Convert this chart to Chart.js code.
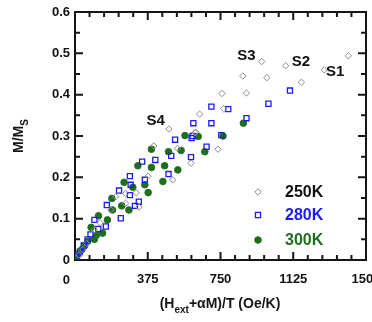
<!DOCTYPE html>
<html>
<head>
<meta charset="utf-8">
<style>
  html, body { margin: 0; padding: 0; background: #fff; overflow: hidden; }
  #wrap { width: 372px; height: 322px; }
</style>
</head>
<body>
<div id="wrap"><canvas id="myChart" width="372" height="322"></canvas></div>
<script src="https://cdn.jsdelivr.net/npm/chart.js"></script>
<script>
// 250K - gray open diamonds
const x250 = [20, 40, 60, 100, 130, 185, 210, 261, 261, 315, 329, 377, 406, 484, 504, 528, 598, 618, 623, 642, 737, 758, 766, 865, 884, 962, 989, 1086, 1167, 1285, 1409];
const y250 = [0.012, 0.025, 0.04, 0.073, 0.09, 0.121, 0.153, 0.161, 0.137, 0.163, 0.128, 0.203, 0.276, 0.317, 0.194, 0.27, 0.234, 0.308, 0.309, 0.353, 0.268, 0.403, 0.366, 0.445, 0.404, 0.48, 0.441, 0.47, 0.43, 0.46, 0.494];
// 280K - blue open squares
const x280 = [10, 25, 45, 65, 80, 100, 120, 159, 164, 227, 236, 283, 283, 287, 309, 329, 346, 360, 414, 482, 496, 516, 598, 601, 606, 610, 678, 703, 703, 754, 790, 884, 997, 1108];
const y280 = [0.008, 0.02, 0.035, 0.05, 0.062, 0.097, 0.075, 0.081, 0.133, 0.168, 0.101, 0.203, 0.157, 0.182, 0.131, 0.141, 0.238, 0.194, 0.242, 0.208, 0.252, 0.291, 0.249, 0.295, 0.3, 0.331, 0.274, 0.371, 0.331, 0.302, 0.365, 0.343, 0.378, 0.41];
// 300K - green filled dots
const x300 = [8, 20, 35, 50, 65, 83, 100, 110, 121, 142, 167, 190, 193, 241, 253, 278, 298, 324, 360, 377, 394, 394, 453, 462, 482, 530, 547, 567, 635, 669, 763, 868];
const y300 = [0.005, 0.015, 0.025, 0.035, 0.045, 0.079, 0.05, 0.06, 0.107, 0.065, 0.097, 0.149, 0.121, 0.131, 0.188, 0.121, 0.176, 0.228, 0.182, 0.163, 0.224, 0.268, 0.19, 0.228, 0.262, 0.218, 0.265, 0.301, 0.299, 0.262, 0.3, 0.331];

const sampleLabels = ['S1', 'S2', 'S3', 'S4'];
const sampleX = [1409, 1086, 962, 484];
const sampleY = [0.494, 0.47, 0.48, 0.317];

const seriesNames = ['250K', '280K', '300K'];
const seriesColors = ['#8c8c8c', '#1c1cf0', '#1e6e1e'];
const textColors = ['#111111', '#1c1cf0', '#1e6e1e'];

const xTicks = [0, 375, 750, 1125, 1500];
const yTicks = [0, 0.1, 0.2, 0.3, 0.4, 0.5, 0.6];

function pts(xs, ys) {
    return xs.map((x, i) => ({ x: x, y: ys[i] }));
}

const FONT = '"Liberation Sans", Arial, sans-serif';
const INK = '#151515';

const decor = {
    id: 'decor',
    afterDraw(chart) {
        const ctx = chart.ctx;
        const a = chart.chartArea;
        const xs = chart.scales.x, ys = chart.scales.y;
        ctx.save();
        // ticks inside, all four sides
        ctx.strokeStyle = INK;
        ctx.lineWidth = 2;
        ctx.lineCap = 'butt';
        ctx.beginPath();
        for (let v = 75; v < 1500; v += 75) {
            const px = xs.getPixelForValue(v);
            const len = (v % 375 === 0) ? 8 : 5;
            ctx.moveTo(px, a.bottom); ctx.lineTo(px, a.bottom - len);
            ctx.moveTo(px, a.top); ctx.lineTo(px, a.top + len);
        }
        for (let k = 1; k < 12; k++) {
            const py = ys.getPixelForValue(k * 0.05);
            const len = (k % 2 === 0) ? 8 : 5;
            ctx.moveTo(a.left, py); ctx.lineTo(a.left + len, py);
            ctx.moveTo(a.right, py); ctx.lineTo(a.right - len, py);
        }
        ctx.stroke();

        // x "0" label sits under the y "0" label
        ctx.fillStyle = INK;
        ctx.font = 'bold 13px ' + FONT;
        ctx.textAlign = 'right';
        ctx.textBaseline = 'middle';
        ctx.fillText('0', a.left - 5, 280);

        // axis titles
        ctx.textBaseline = 'alphabetic';
        ctx.textAlign = 'left';
        const t1 = '(H', t2 = 'ext', t3 = '+\u03b1M)/T (Oe/K)';
        ctx.font = 'bold 14px ' + FONT;
        const w1 = ctx.measureText(t1).width;
        const w3 = ctx.measureText(t3).width;
        ctx.font = 'bold 10px ' + FONT;
        const w2 = ctx.measureText(t2).width;
        const sx = 220 - (w1 + w2 + w3) / 2;
        const by = 308;
        ctx.font = 'bold 14px ' + FONT;
        ctx.fillText(t1, sx, by);
        ctx.font = 'bold 10px ' + FONT;
        ctx.fillText(t2, sx + w1, by + 5);
        ctx.font = 'bold 14px ' + FONT;
        ctx.fillText(t3, sx + w1 + w2, by);

        // y title rotated
        ctx.save();
        ctx.translate(23, 136);
        ctx.rotate(-Math.PI / 2);
        ctx.font = 'bold 14px ' + FONT;
        const m1 = 'M/M';
        const mw = ctx.measureText(m1).width;
        ctx.font = 'bold 10px ' + FONT;
        const sw = ctx.measureText('S').width;
        ctx.font = 'bold 14px ' + FONT;
        ctx.fillText(m1, -(mw + sw) / 2, 0);
        ctx.font = 'bold 10px ' + FONT;
        ctx.fillText('S', -(mw + sw) / 2 + mw, 5);
        ctx.restore();

        // sample labels
        ctx.font = 'bold 15px ' + FONT;
        ctx.fillStyle = '#111';
        ctx.textBaseline = 'middle';
        const offs = [[-4, 16, 'right'], [6, -4, 'left'], [-6, -6, 'right'], [-4, -8, 'right']];
        sampleLabels.forEach((s, i) => {
            const px = xs.getPixelForValue(sampleX[i]);
            const py = ys.getPixelForValue(sampleY[i]);
            ctx.textAlign = offs[i][2];
            ctx.fillText(s, px + offs[i][0], py + offs[i][1]);
        });

        // legend inside the plot
        const rows = [192, 215, 240];
        seriesNames.forEach((n, i) => {
            const ds = chart.data.datasets[i];
            ctx.beginPath();
            ctx.lineWidth = ds.borderWidth;
            ctx.strokeStyle = ds.borderColor;
            ctx.fillStyle = ds.backgroundColor;
            Chart.helpers.drawPoint(ctx, { pointStyle: ds.pointStyle, radius: ds.pointRadius, borderWidth: ds.borderWidth }, 258, rows[i]);
            ctx.font = 'bold 16px ' + FONT;
            ctx.fillStyle = textColors[i];
            ctx.textAlign = 'left';
            ctx.textBaseline = 'middle';
            ctx.fillText(n, 285, rows[i] + 1);
        });
        ctx.restore();
    }
};

const frameAxis = (pos, min, max, isX) => ({
    type: 'linear', position: pos, min: min, max: max, display: true,
    afterFit: (s) => { if (isX) { s.height = 0; s.paddingLeft = 0; s.paddingRight = 0; } else { s.width = 0; s.paddingTop = 0; s.paddingBottom = 0; } },
    grid: { display: false, drawTicks: false },
    border: { display: true, color: INK, width: 2 },
    ticks: { display: false }
});

new Chart(document.getElementById('myChart'), {
    type: 'scatter',
    data: {
        datasets: [
            { label: seriesNames[0], data: pts(x250, y250), pointStyle: 'rectRot', pointRadius: 3.2,
              borderColor: seriesColors[0], backgroundColor: 'rgba(255,255,255,0)', borderWidth: 1 },
            { label: seriesNames[1], data: pts(x280, y280), pointStyle: 'rect', pointRadius: 3.6,
              borderColor: seriesColors[1], backgroundColor: 'rgba(255,255,255,0)', borderWidth: 1.3 },
            { label: seriesNames[2], data: pts(x300, y300), pointStyle: 'circle', pointRadius: 3.3,
              borderColor: seriesColors[2], backgroundColor: seriesColors[2], borderWidth: 1 }
        ]
    },
    options: {
        responsive: false,
        animation: false,
        layout: { padding: { left: 0, right: 6, top: 12, bottom: 0 } },
        plugins: { legend: { display: false }, tooltip: { enabled: false } },
        scales: {
            x: {
                type: 'linear', position: 'bottom', min: 0, max: 1500,
                afterFit: (s) => { s.height = 62; s.paddingLeft = 0; s.paddingRight = 0; },
                afterBuildTicks: (s) => { s.ticks = xTicks.map(v => ({ value: v })); },
                grid: { display: false, drawTicks: false },
                border: { display: true, color: INK, width: 2 },
                ticks: {
                    padding: 12, color: '#111', maxRotation: 0,
                    font: { family: FONT, size: 13, weight: 'bold' },
                    callback: (v) => v === 0 ? '' : String(v)
                }
            },
            y: {
                type: 'linear', position: 'left', min: 0, max: 0.6,
                afterFit: (s) => { s.width = 75; s.paddingTop = 0; s.paddingBottom = 0; },
                afterBuildTicks: (s) => { s.ticks = yTicks.map(v => ({ value: v })); },
                grid: { display: false, drawTicks: false },
                border: { display: true, color: INK, width: 2 },
                ticks: {
                    padding: 5, color: '#111',
                    font: { family: FONT, size: 13, weight: 'bold' },
                    callback: (v) => String(Math.round(v * 10) / 10)
                }
            },
            x2: frameAxis('top', 0, 1500, true),
            y2: frameAxis('right', 0, 0.6, false)
        }
    },
    plugins: [decor]
});
</script>
</body>
</html>
